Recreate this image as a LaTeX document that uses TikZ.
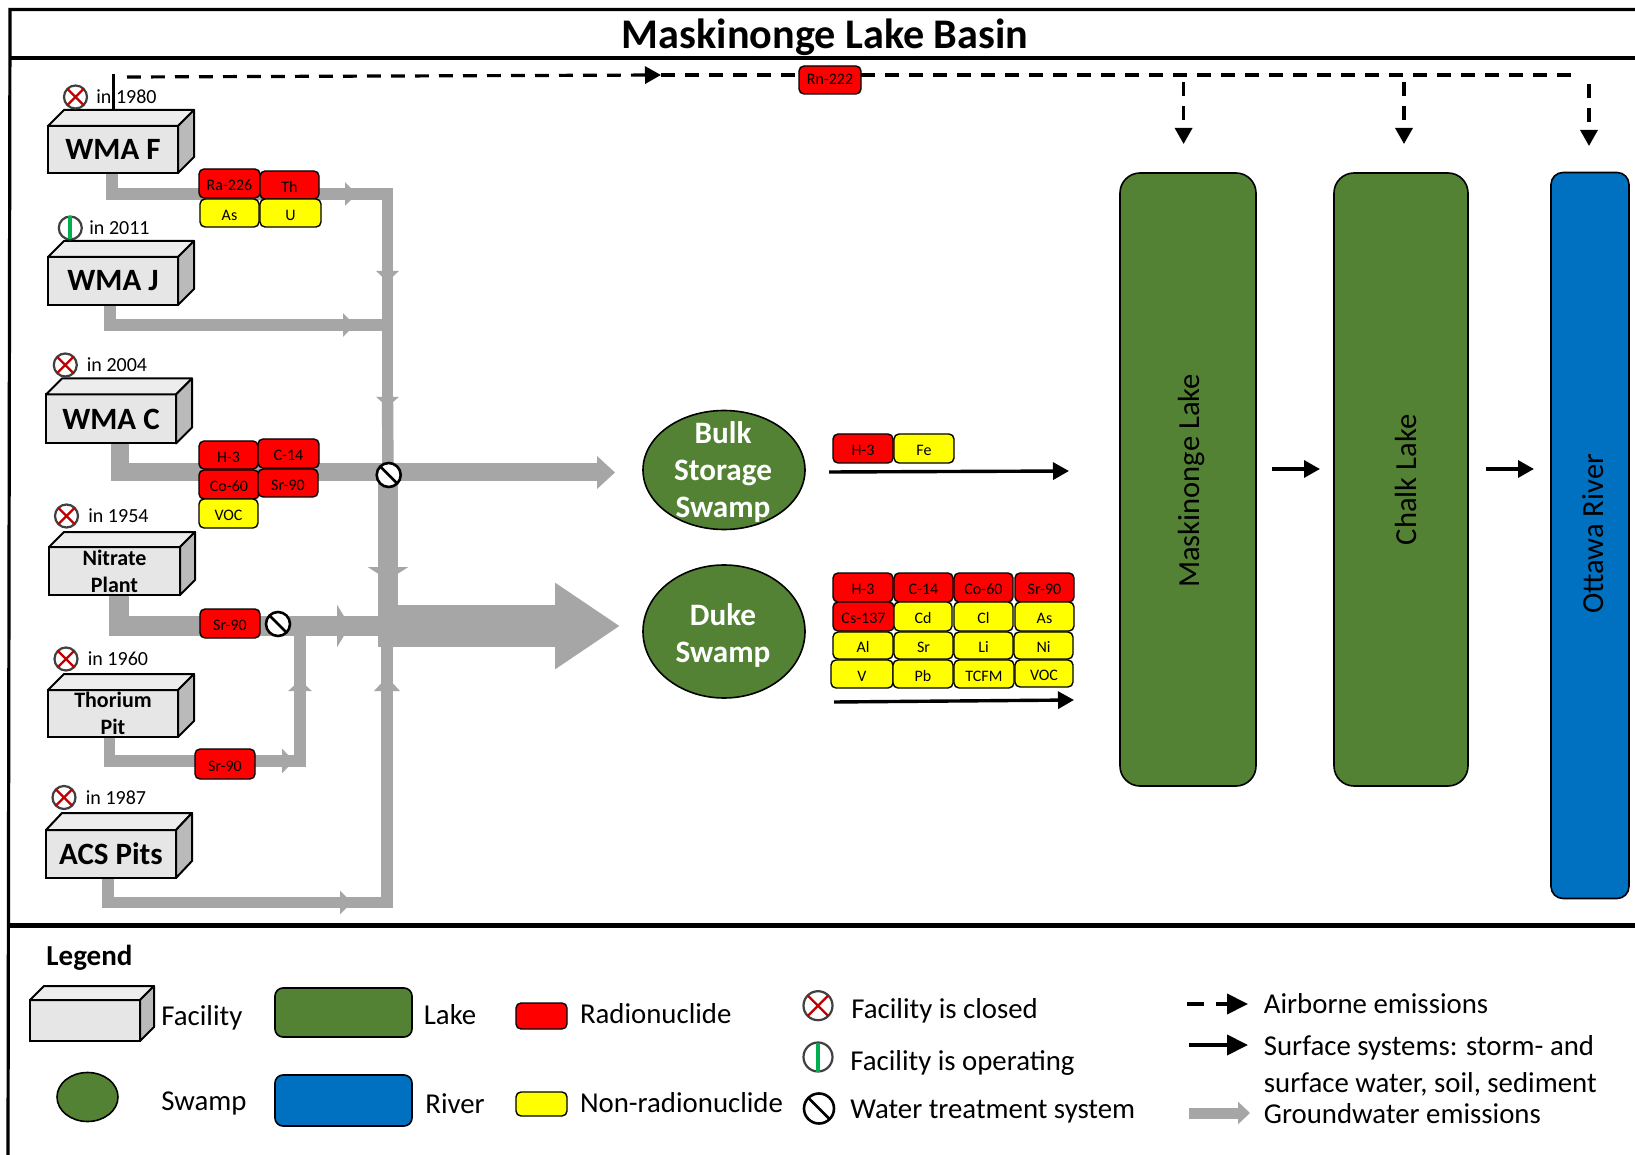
\documentclass[tikz,border=0pt]{standalone}
\usepackage{fontspec}
\setmainfont{Carlito}
\usetikzlibrary{arrows.meta,shapes.geometric,backgrounds}
\definecolor{gw}{HTML}{A6A6A6}
\definecolor{lakeg}{HTML}{548235}
\definecolor{riverb}{HTML}{0070C0}
\definecolor{radr}{HTML}{FF0000}
\definecolor{nonr}{HTML}{FFFF00}
\definecolor{facf}{HTML}{E7E6E6}
\definecolor{facs}{HTML}{BABABA}
\definecolor{fact}{HTML}{EDEDED}
\definecolor{xred}{HTML}{C00000}
\definecolor{opg}{HTML}{00B050}
\tikzset{
  frameline/.style={line width=1.6pt,black},
  fac/.style={draw,fill=facf,line width=1pt,inner sep=0pt,outer sep=0pt,align=center},
  facside/.style={draw,line width=1pt,line join=round},
  tagbox/.style={draw,line width=0.7pt,rounded corners=2.5pt,inner sep=0pt,outer sep=0pt,text height=.8em,text depth=.08em,font=\fontsize{8}{9}\selectfont},
  lbl/.style={anchor=west,inner sep=0pt,text height=.85em,text depth=.1em},
  yearlbl/.style={lbl,font=\fontsize{10}{12}\selectfont},
  leglbl/.style={lbl,yshift=-1.4pt,font=\fontsize{14.4}{16}\selectfont},
  ringnode/.style={circle,draw=#1,fill=white,line width=1.1pt,inner sep=0pt,outer sep=0pt},
  water/.style={draw,fill=lakeg,line width=0.8pt,inner sep=0pt,outer sep=0pt},
  wlabel/.style={rotate=90,font=\fontsize{15.3}{17}\selectfont,inner sep=0pt},
  swampname/.style={text=white,align=center,inner sep=0pt,font=\bfseries\fontsize{15.6}{18.4}\selectfont},
  air/.style={line width=1.6pt,dash pattern=on 6.9pt off 5.1pt},
  airtip/.style={-{Triangle[length=8pt,width=8.5pt]}},
  surf/.style={line width=1.7pt,-{Triangle[length=8pt,width=8.5pt]}},
  ln6/.style={gw,line width=5.7pt,line join=miter},
  ln10/.style={gw,line width=10pt,line join=miter},
}
\newcommand{\facbox}[9]{%
  \node[fac,minimum width={(#4)*0.5pt},minimum height={(#5)*0.5pt},font=#8] (#1) at ({#2+#4/2},{#3+#5/2}) {#9};
  \draw[facside,fill=fact] (#1.north west) -- ++(#6,-#7) -- ++(#4,0) -- (#1.north east) -- cycle;
  \draw[facside,fill=facs] (#1.north east) -- ++(#6,-#7) -- ++(0,#5) -- (#1.south east) -- cycle;
}
\newcommand{\tagb}[7]{%
  \node[tagbox,fill=#2,minimum width={(#5-#3)*0.5pt},minimum height={(#6-#4)*0.5pt}] (#1) at ({(#3+#5)/2},{(#4+#6)/2}) {#7};
}
\newcommand{\closedicon}[4]{%
  \node[ringnode=black!75,minimum size={2*#4*0.5pt}] (#1) at (#2,#3) {};
  \draw[xred,line width=1.1pt] (#1.45) -- (#1.225) (#1.135) -- (#1.315);
}
\newcommand{\openicon}[4]{%
  \node[ringnode=black!75,minimum size={2*#4*0.5pt}] (#1) at (#2,#3) {};
  \draw[opg,line width=2pt] (#1.north) -- (#1.south);
}
\newcommand{\treaticon}[4]{%
  \node[ringnode=black,minimum size={2*#4*0.5pt},line width=1.3pt] (#1) at (#2,#3) {};
  \draw[black,line width=1.3pt] (#1.135) -- (#1.315);
}
\begin{document}
\begin{tikzpicture}[x=0.5pt,y=-0.5pt]
\useasboundingbox (0,0) rectangle (1635,1155);
\begin{scope}[on background layer]
\fill[white] (0,0) rectangle (1635,1155);
\end{scope}
% frame
\coordinate (frTL) at (10,9.5);
\coordinate (frTR) at (1635,9.5);
\coordinate (frBL) at (8,1155);
\coordinate (frM1L) at (10,58);
\coordinate (frM1R) at (1635,58);
\coordinate (frM2L) at (9,925);
\coordinate (frM2R) at (1635,925);
\draw[frameline] (frTR) -- (frTL) -- (frBL);
\draw[frameline] (frM1L) -- (frM1R);
\draw[line width=2.5pt] (frM2L) -- (frM2R);
\node[font=\bfseries\fontsize{21.1}{24}\selectfont,inner sep=0pt] (title) at (825,37.5) {Maskinonge Lake Basin};
% facilities
\facbox{fF}{48}{126}{130}{47}{16}{16}{\bfseries\fontsize{15.5}{18}\selectfont}{WMA F}
\facbox{fJ}{48}{257}{130}{48}{16}{16}{\bfseries\fontsize{15.5}{18}\selectfont}{WMA J}
\facbox{fC}{46}{394.5}{130}{49}{16}{16}{\bfseries\fontsize{15.5}{18}\selectfont}{WMA C}
\facbox{fN}{49}{547}{131}{48}{15}{15}{\bfseries\fontsize{11}{13.5}\selectfont}{Nitrate\\Plant}
\facbox{fT}{48}{690}{130}{47}{16}{16}{\bfseries\fontsize{11}{13.5}\selectfont}{Thorium\\Pit}
\facbox{fA}{46}{830}{130}{48}{16}{17}{\bfseries\fontsize{15.5}{18}\selectfont}{ACS Pits}
% status
\closedicon{iF}{75.5}{97}{11.5}
\node[yearlbl] (yF) at (96,96.5) {in 1980};
\openicon{iJ}{70.3}{228}{11.5}
\node[yearlbl] (yJ) at (89,227.5) {in 2011};
\closedicon{iC}{65.3}{365}{11.5}
\node[yearlbl] (yC) at (86.5,364.5) {in 2004};
\closedicon{iN}{66.5}{516}{11.5}
\node[yearlbl] (yN) at (88,515.5) {in 1954};
\closedicon{iT}{66}{659}{11.5}
\node[yearlbl] (yT) at (87.5,658) {in 1960};
\closedicon{iA}{64}{797.5}{11.5}
\node[yearlbl] (yA) at (85.5,797) {in 1987};
% left tags
\tagb{tRa}{radr}{199}{169}{260}{198}{Ra-226}
\tagb{tTh}{radr}{260}{171}{319}{199}{Th}
\tagb{tAs}{nonr}{200}{199}{259}{227}{As}
\tagb{tU}{nonr}{260}{199}{321}{227}{U}
\tagb{tH}{radr}{199}{441}{258}{469}{H-3}
\tagb{tC}{radr}{258}{439}{319}{468}{C-14}
\tagb{tCo}{radr}{199}{470}{259}{499}{Co-60}
\tagb{tSr}{radr}{258}{469}{318}{497}{Sr-90}
\tagb{tV}{nonr}{199}{499}{258}{528}{VOC}
\tagb{tSrN}{radr}{200}{609}{260}{638}{Sr-90}
\tagb{tSrT}{radr}{195}{749}{255}{779}{Sr-90}
\node[tagbox,text height=.45em,text depth=0pt,fill=radr,minimum width=31pt,minimum height=14pt] (tRn) at (830,80) {Rn-222};
% treatment
\treaticon{wC}{388.7}{475}{12}
\treaticon{wN}{278}{624}{12}
% swamps
\node[ellipse,water,minimum width=81pt,minimum height=59.5pt] (bulk) at (724,470) {};
\node[swampname] (bulkT) at (723,472) {Bulk\\Storage\\Swamp};
\node[ellipse,water,minimum width=81pt,minimum height=66.5pt] (duke) at (724,631.5) {};
\node[swampname] (dukeT) at (723,635.5) {Duke\\Swamp};
% swamp tags
\tagb{bH}{radr}{833}{434}{893}{463}{H-3}
\tagb{bF}{nonr}{894}{434}{954}{463}{Fe}
\tagb{d11}{radr}{833}{573}{893}{602}{H-3}
\tagb{d12}{radr}{894}{573}{953}{602}{C-14}
\tagb{d13}{radr}{954}{573}{1013}{602}{Co-60}
\tagb{d14}{radr}{1015}{573}{1074}{602}{Sr-90}
\tagb{d21}{radr}{833}{602}{894}{631}{Cs-137}
\tagb{d22}{nonr}{894}{602}{952}{631}{Cd}
\tagb{d23}{nonr}{954}{602}{1013}{631}{Cl}
\tagb{d24}{nonr}{1015}{602}{1074}{631}{As}
\tagb{d31}{nonr}{833}{632}{893}{659}{Al}
\tagb{d32}{nonr}{894}{632}{953}{659}{Sr}
\tagb{d33}{nonr}{954}{632}{1013}{659}{Li}
\tagb{d34}{nonr}{1014}{632}{1073}{659}{Ni}
\tagb{d41}{nonr}{831}{660}{893}{688}{V}
\tagb{d42}{nonr}{893}{660}{953}{688}{Pb}
\tagb{d43}{nonr}{954}{660}{1014}{688}{TCFM}
\tagb{d44}{nonr}{1015}{660}{1073}{687}{VOC}
% water bodies
\node[water,rounded corners=10pt,minimum width=68pt,minimum height=306.5pt] (lakeM) at (1188,479.5) {};
\node[wlabel] (lakeMT) at (1191,481) {Maskinonge Lake};
\node[water,rounded corners=10pt,minimum width=67pt,minimum height=306.5pt] (lakeC) at (1401,479.5) {};
\node[wlabel] (lakeCT) at (1406,480) {Chalk Lake};
\node[water,fill=riverb,rounded corners=6pt,minimum width=39pt,minimum height=363pt] (river) at (1590,535.5) {};
\node[wlabel] (riverT) at (1593,534) {Ottawa River};
% airborne
\coordinate (aTop) at (113,74);
\coordinate (aBot) at (113,110);
\coordinate (aS) at (127,77);
\coordinate (aMid) at (661,75);
\coordinate (aE) at (1578,75);
\coordinate (aD1) at (1183.6,82);
\coordinate (aT1) at (1183.6,144);
\coordinate (aD2) at (1404,82);
\coordinate (aT2) at (1404,144);
\coordinate (aD3) at (1589,84);
\coordinate (aT3) at (1589,146);
\draw[line width=1.5pt] (aTop) -- (aBot);
\draw[air,airtip] (aS) -- (aMid);
\draw[air] (aMid) -- (aMid -| tRn.west);
\draw[air] (aMid -| tRn.east) -- (aE);
\draw[air,airtip] (aD1) -- (aT1);
\draw[air,airtip] (aD2) -- (aT2);
\draw[air,airtip] (aD3) -- (aT3);
% surface
\coordinate (bOut) at (829,472);
\coordinate (bIn) at (1069,471);
\coordinate (dOut) at (834,702);
\coordinate (dIn) at (1074,700);
\coordinate (m1) at (1272,469);
\coordinate (m2) at (1320,469);
\coordinate (c1) at (1486,469);
\coordinate (c2) at (1534,469);
\draw[surf] (bOut) -- (bIn);
\draw[surf] (dOut) -- (dIn);
\draw[surf] (m1) -- (m2);
\draw[surf] (c1) -- (c2);
% groundwater
\begin{scope}[on background layer]
\coordinate (gF1) at (112,173);
\coordinate (gF2) at (112,194);
\coordinate (gF3) at (357,194);
\coordinate (gF3s) at (345,194);
\coordinate (gTr0) at (387.5,194);
\coordinate (gTr1) at (387.5,282);
\coordinate (gTr1s) at (387.5,271);
\coordinate (gTr2) at (387.5,407);
\coordinate (gTr2s) at (387.5,397);
\coordinate (gJ1) at (110,305);
\coordinate (gJ2) at (110,325);
\coordinate (gJ3) at (355,325);
\coordinate (gJ3s) at (343,325);
\coordinate (gJ4) at (384,325);
\coordinate (gC1) at (120,443);
\coordinate (gC2) at (120,472.5);
\coordinate (gC3) at (615,472.5);
\coordinate (gTr3) at (388,470);
\coordinate (gTr4) at (388,580);
\coordinate (gTr4s) at (388,567);
\coordinate (gTr5) at (388,626);
\coordinate (gN1) at (119,594);
\coordinate (gN2) at (119,626);
\coordinate (gN3) at (350,626);
\coordinate (gN3s) at (337,626);
\coordinate (gN4) at (384,626);
\coordinate (gD1) at (378,626);
\coordinate (gD2) at (620,626);
\coordinate (gT1) at (109.5,736);
\coordinate (gT2) at (109.5,761);
\coordinate (gT3) at (294,761);
\coordinate (gT3s) at (282,761);
\coordinate (gT4) at (300,761);
\coordinate (gT5) at (300,680);
\coordinate (gT5s) at (300,691);
\coordinate (gT6) at (300,632);
\coordinate (gA1) at (108,877);
\coordinate (gA2) at (108,902.5);
\coordinate (gA3) at (352,902.5);
\coordinate (gA3s) at (340,902.5);
\coordinate (gA4) at (387,902.5);
\coordinate (gA5) at (387,677);
\coordinate (gA5s) at (387,691);
\coordinate (gA6) at (387,640);
\draw[ln6,-{Triangle[length=6pt,width=11.5pt]}] (gF1) -- (gF2) -- (gF3);
\draw[ln6,-{Triangle[length=5.5pt,width=11pt]}] (gF3s) -- (gTr0) -- (gTr1);
\draw[ln6,-{Triangle[length=5pt,width=11pt]}] (gTr1s) -- (gTr2);
\draw[ln6] (gTr2s) -- (gTr3);
\draw[ln6,-{Triangle[length=6pt,width=11.5pt]}] (gJ1) -- (gJ2) -- (gJ3);
\draw[ln6] (gJ3s) -- (gJ4);
\draw[gw,line width=9pt,-{Triangle[length=9pt,width=16pt]}] (gC1) -- (gC2) -- (gC3);
\draw[ln10,-{Triangle[length=6.5pt,width=20pt]}] (gTr3) -- (gTr4);
\draw[ln10] (gTr4s) -- (gTr5);
\draw[ln10,-{Triangle[length=6.5pt,width=21pt]}] (gN1) -- (gN2) -- (gN3);
\draw[ln10] (gN3s) -- (gN4);
\draw[gw,line width=21pt,-{Triangle[length=32.5pt,width=41pt]}] (gD1) -- (gD2);
\draw[ln6,-{Triangle[length=6pt,width=12pt]}] (gT1) -- (gT2) -- (gT3);
\draw[ln6,-{Triangle[length=5.5pt,width=11.5pt]}] (gT3s) -- (gT4) -- (gT5);
\draw[ln6] (gT5s) -- (gT6);
\draw[ln6,-{Triangle[length=6pt,width=11.5pt]}] (gA1) -- (gA2) -- (gA3);
\draw[ln6,-{Triangle[length=7pt,width=12.5pt]}] (gA3s) -- (gA4) -- (gA5);
\draw[ln6] (gA5s) -- (gA6);
\end{scope}
% legend
\node[lbl,font=\bfseries\fontsize{14.5}{17}\selectfont] (legT) at (46,958) {Legend};
\facbox{lF}{30}{1000}{110}{41}{14}{14}{\normalsize}{}
\node[leglbl] (lFt) at (161,1015) {Facility};
\node[water,rounded corners=4pt,minimum width=68.5pt,minimum height=24.5pt] (lL) at (343.5,1012.5) {};
\node[leglbl] (lLt) at (423.5,1014) {Lake};
\node[tagbox,fill=radr,minimum width=25.5pt,minimum height=13pt] (lR) at (541.5,1016) {};
\node[leglbl] (lRt) at (579.6,1013) {Radionuclide};
\node[ellipse,water,minimum width=30.5pt,minimum height=24.5pt] (lS) at (87.5,1097) {};
\node[leglbl] (lSt) at (161,1100) {Swamp};
\node[water,fill=riverb,rounded corners=4pt,minimum width=68.5pt,minimum height=25.5pt] (lV) at (343.5,1100.5) {};
\node[leglbl] (lVt) at (425,1103) {River};
\node[tagbox,fill=nonr,minimum width=25.5pt,minimum height=12pt] (lN) at (541.5,1104) {};
\node[leglbl] (lNt) at (579.6,1102) {Non-radionuclide};
\closedicon{lc}{818}{1005.7}{14.5}
\node[leglbl] (lct) at (851,1008) {Facility is closed};
\openicon{lo}{818}{1057}{14.5}
\node[leglbl] (lot) at (850,1060) {Facility is operating};
\treaticon{lw}{819}{1108.5}{15}
\node[leglbl] (lwt) at (850,1108) {Water treatment system};
\coordinate (lA1) at (1187,1004);
\coordinate (lA2) at (1204,1004);
\coordinate (lA3) at (1216,1004);
\coordinate (lA4) at (1248,1004);
\draw[line width=2pt] (lA1) -- (lA2);
\draw[line width=2pt,-{Triangle[length=10.5pt,width=10pt]}] (lA3) -- (lA4);
\node[leglbl] (lAt) at (1263.5,1003) {Airborne emissions};
\coordinate (lS1) at (1189,1045);
\coordinate (lS2) at (1248,1045);
\draw[line width=2pt,-{Triangle[length=10.5pt,width=10pt]}] (lS1) -- (lS2);
\node[leglbl] (lSa) at (1263.5,1045) {Surface systems: storm- and};
\node[leglbl] (lSb) at (1263.5,1082) {surface water, soil, sediment};
\coordinate (lG1) at (1189,1113);
\coordinate (lG2) at (1250,1113);
\draw[gw,line width=5.5pt,-{Triangle[length=6pt,width=11pt]}] (lG1) -- (lG2);
\node[leglbl] (lGt) at (1263.5,1113) {Groundwater emissions};
\end{tikzpicture}
\end{document}
